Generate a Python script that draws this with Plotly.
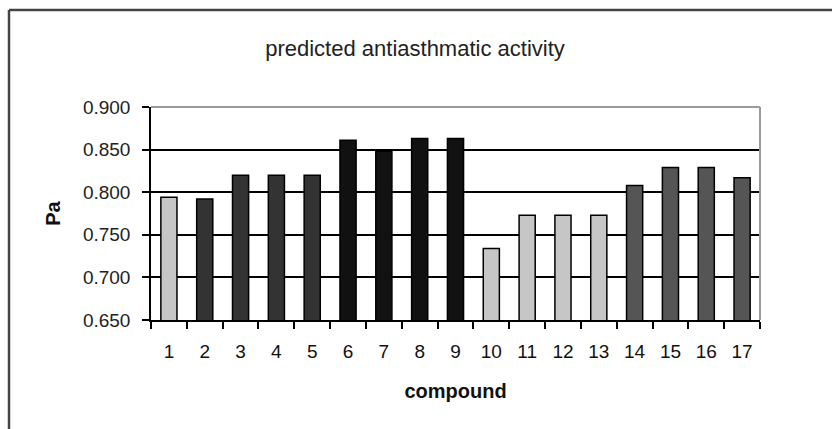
import plotly.graph_objects as go

# Predicted antiasthmatic activity (Pa) per compound
compounds = [str(i) for i in range(1, 18)]
pa_values = [0.794, 0.792, 0.820, 0.820, 0.820, 0.861, 0.848, 0.863, 0.863,
             0.734, 0.773, 0.773, 0.773, 0.808, 0.829, 0.829, 0.817]
bar_colors = ["#c6c6c6", "#333333", "#333333", "#333333", "#333333",
              "#111111", "#111111", "#111111", "#111111",
              "#c6c6c6", "#c6c6c6", "#c6c6c6", "#c6c6c6",
              "#555555", "#555555", "#555555", "#555555"]
y_ticks = [0.65, 0.70, 0.75, 0.80, 0.85, 0.90]

FONT = "Liberation Sans, Arial, sans-serif"

fig = go.Figure(
    go.Bar(
        x=compounds,
        y=pa_values,
        marker=dict(color=bar_colors, line=dict(color="#000000", width=1.5)),
    )
)

fig.update_layout(
    width=832,
    height=429,
    margin=dict(l=151, r=72, t=107, b=109),
    paper_bgcolor="white",
    plot_bgcolor="white",
    bargap=0.55,
    showlegend=False,
    font=dict(family=FONT, color="#111111"),
    title=dict(
        text="predicted antiasthmatic activity",
        font=dict(family=FONT, size=22, color="#222222"),
        xref="container", yref="container",
        x=415 / 832, y=1 - 48 / 429,
        xanchor="center", yanchor="middle",
    ),
    xaxis=dict(
        type="category",
        tickson="boundaries",
        ticks="outside",
        ticklen=7,
        tickwidth=1.5,
        tickcolor="#000000",
        showline=True,
        linecolor="#000000",
        linewidth=1.5,
        showgrid=False,
        tickfont=dict(size=19, color="#111111"),
        ticklabelstandoff=13,
        title=dict(text="<b>compound</b>", font=dict(size=20, color="#111111"), standoff=23),
    ),
    yaxis=dict(
        range=[0.65, 0.90],
        tickvals=y_ticks,
        tickformat=".3f",
        ticks="outside",
        ticklen=7,
        tickwidth=1.5,
        tickcolor="#000000",
        showline=True,
        linecolor="#000000",
        linewidth=1.5,
        showgrid=True,
        gridcolor="#000000",
        gridwidth=1.5,
        zeroline=False,
        tickfont=dict(size=19, color="#222222"),
        ticklabelstandoff=8,
        title=dict(text="<b>Pa</b>", font=dict(size=20, color="#111111"), standoff=17),
    ),
)

# Grey border on the top and right of the plot area
fig.add_shape(type="line", xref="paper", yref="paper", x0=0, x1=1, y0=1, y1=1,
              line=dict(color="#9a9a9a", width=2))
fig.add_shape(type="line", xref="paper", yref="paper", x0=1, x1=1, y0=0, y1=1,
              line=dict(color="#9a9a9a", width=2))

# Outer chart frame (left and top edges)
left_px, top_px = 9, 10
plot_l, plot_b, plot_w, plot_h = 151, 320, 609, 213
fx = (left_px - plot_l) / plot_w
fy = (plot_b - top_px) / plot_h
fig.add_shape(type="line", xref="paper", yref="paper", x0=fx, x1=fx, y0=-0.6, y1=fy,
              line=dict(color="#444444", width=2.5))
fig.add_shape(type="line", xref="paper", yref="paper", x0=fx, x1=1.2, y0=fy, y1=fy,
              line=dict(color="#444444", width=2.5))

fig.write_html("out.html")
